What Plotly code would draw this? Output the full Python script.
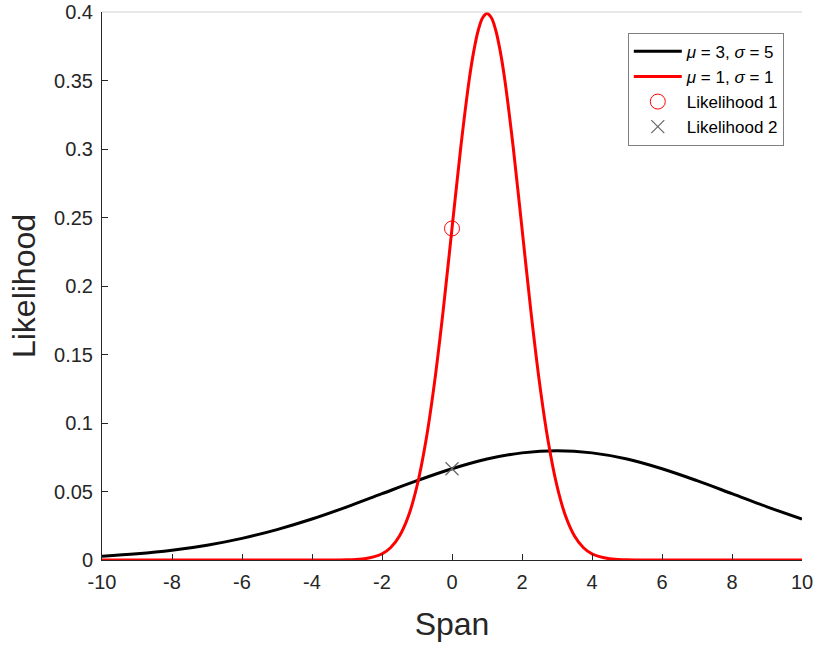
import plotly.graph_objects as go

# Red curve (mu=1, sigma=1)
x_red = [-10, -6, -4, -3, -2.5, -2, -1.75, -1.5, -1.25, -1, -0.75, -0.5, -0.25, 0, 0.25, 0.5, 0.625, 0.75, 0.875, 1,
         1.125, 1.25, 1.375, 1.5, 1.75, 2, 2.25, 2.5, 2.75, 3, 3.25, 3.5, 3.75, 4, 4.5, 5, 6, 8, 10]
y_red = [0, 0, 0.000006, 0.000134, 0.000873, 0.00443, 0.00909, 0.0175, 0.0317, 0.0540, 0.0863, 0.1295,
         0.1826, 0.2420, 0.3011, 0.3521, 0.3718, 0.3867, 0.3958, 0.3989, 0.3958, 0.3867, 0.3718, 0.3521,
         0.3011, 0.2420, 0.1826, 0.1295, 0.0863, 0.0540, 0.0317, 0.0175, 0.00909, 0.00443, 0.000873,
         0.000134, 0.000006, 0, 0]

# Black curve (mu=3, sigma=5)
x_black = list(range(-10, 11))
y_black = [0.00271, 0.00448, 0.00709, 0.0108, 0.0158, 0.0222, 0.0299, 0.0388, 0.0484, 0.0579, 0.0666,
           0.0737, 0.0782, 0.0798, 0.0782, 0.0737, 0.0666, 0.0579, 0.0484, 0.0388, 0.0299]

lik1_x, lik1_y = [0], [0.242]
lik2_x, lik2_y = [0], [0.0666]

x_ticks = [-10, -8, -6, -4, -2, 0, 2, 4, 6, 8, 10]
y_ticks = [0, 0.05, 0.1, 0.15, 0.2, 0.25, 0.3, 0.35, 0.4]
y_tick_labels = ["0", "0.05", "0.1", "0.15", "0.2", "0.25", "0.3", "0.35", "0.4"]

FONT = "Liberation Sans, Arial"

fig = go.Figure()
fig.add_trace(go.Scatter(x=x_black, y=y_black, mode="lines", line=dict(color="black", width=3, shape="spline"),
                         name="<i>μ</i> = 3, <i>σ</i> = 5"))
fig.add_trace(go.Scatter(x=x_red, y=y_red, mode="lines", line=dict(color="#ff0000", width=3, shape="spline", smoothing=1.0),
                         name="<i>μ</i> = 1, <i>σ</i> = 1"))
fig.add_trace(go.Scatter(x=lik1_x, y=lik1_y, mode="markers",
                         marker=dict(symbol="circle-open", color="#ff0000", size=15, line=dict(width=1)),
                         name="Likelihood 1"))
fig.add_trace(go.Scatter(x=lik2_x, y=lik2_y, mode="markers",
                         marker=dict(symbol="x-thin-open", color="#666666", size=13, line=dict(width=1.2, color="#666666")),
                         name="Likelihood 2"))

axis_common = dict(showgrid=False, zeroline=False, showline=True, linecolor="#262626", linewidth=1,
                   ticks="inside", ticklen=6, tickcolor="#262626", automargin=False,
                   tickfont=dict(family=FONT, size=20, color="#262626"))

fig.update_xaxes(range=[-10, 10], tickvals=x_ticks, ticktext=[str(v) for v in x_ticks],
                 ticklabelstandoff=4,
                 title=dict(text="Span", font=dict(family=FONT, size=32, color="#262626"), standoff=20),
                 **axis_common)
fig.update_yaxes(range=[0, 0.4], tickvals=y_ticks, ticktext=y_tick_labels,
                 ticklabelstandoff=4,
                 title=dict(text="Likelihood", font=dict(family=FONT, size=32, color="#262626"), standoff=8),
                 **axis_common)

fig.add_shape(type="line", xref="paper", yref="paper", x0=0, x1=1, y0=1, y1=1,
              line=dict(color="#d0d0d0", width=1))

fig.update_layout(
    width=818, height=648,
    margin=dict(l=102, r=16, t=12, b=88),
    plot_bgcolor="white", paper_bgcolor="white",
    font=dict(family=FONT, color="#262626"),
    legend=dict(x=0.974, y=0.962, xanchor="right", yanchor="top",
                bgcolor="white", bordercolor="#808080", borderwidth=1,
                font=dict(family=FONT, size=17, color="black"),
                tracegroupgap=0, itemwidth=48),
    showlegend=True,
)

fig.write_html("out.html")
